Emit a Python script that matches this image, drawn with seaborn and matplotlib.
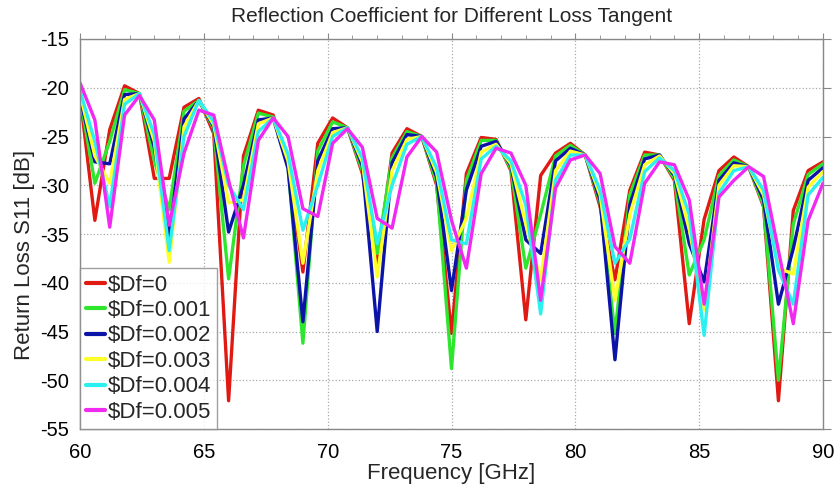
import numpy as np
import pandas as pd
import matplotlib
matplotlib.use("Agg")
import matplotlib.pyplot as plt
import seaborn as sns
from matplotlib.ticker import MultipleLocator

freq = [round(60 + 0.6 * k, 1) for k in range(51)]

df0 = [-20.8, -33.6, -24.3, -19.8, -20.6, -29.3, -29.3, -22.0, -21.1, -24.7,
       -52.1, -27.0, -22.3, -22.8, -27.8, -38.9, -25.7, -23.1, -24.1, -28.8,
       -38.0, -26.7, -24.2, -25.0, -30.0, -45.2, -28.8, -25.1, -25.3, -28.5,
       -43.8, -29.0, -26.7, -25.7, -26.9, -32.2, -39.7, -30.5, -26.6, -26.9,
       -29.5, -44.2, -33.5, -28.5, -27.1, -28.1, -32.2, -52.1, -32.6, -28.5, -27.6]
df1 = [-20.9, -29.8, -25.5, -20.2, -20.6, -27.5, -32.5, -22.4, -21.3, -24.2,
       -39.6, -28.0, -22.6, -23.0, -28.0, -46.2, -26.5, -23.5, -24.1, -28.5,
       -37.0, -27.2, -24.5, -25.0, -29.7, -48.8, -29.5, -25.4, -25.4, -28.3,
       -38.5, -33.0, -27.0, -25.9, -26.9, -31.8, -45.2, -31.0, -26.9, -26.9,
       -29.3, -39.2, -35.6, -29.0, -27.4, -28.1, -32.0, -50.0, -34.0, -28.9, -27.8]
df2 = [-21.0, -27.6, -27.8, -20.7, -20.6, -26.1, -35.3, -23.2, -21.3, -24.0,
       -34.8, -30.0, -23.3, -23.1, -28.3, -44.0, -27.5, -24.2, -24.1, -28.0,
       -45.0, -27.7, -24.8, -25.0, -29.2, -40.8, -30.5, -26.0, -25.5, -28.0,
       -35.6, -37.0, -27.5, -26.2, -26.9, -31.5, -47.9, -32.0, -27.3, -26.9,
       -29.0, -36.0, -39.9, -29.5, -27.7, -28.1, -31.5, -42.2, -36.5, -29.5, -28.2]
df3 = [-20.6, -27.0, -29.8, -21.2, -20.6, -25.5, -37.9, -24.0, -21.3, -23.8,
       -31.8, -31.5, -23.7, -23.1, -27.5, -38.0, -28.5, -24.6, -24.1, -27.6,
       -39.4, -28.5, -25.3, -25.0, -28.7, -36.7, -33.4, -26.6, -25.8, -27.8,
       -34.0, -39.7, -28.5, -26.5, -26.9, -31.0, -41.8, -33.0, -27.9, -27.0,
       -28.8, -34.5, -42.8, -30.0, -28.0, -28.1, -31.0, -38.5, -39.1, -30.2, -28.6]
df4 = [-20.3, -25.5, -32.2, -21.7, -20.6, -24.8, -36.7, -25.0, -21.3, -23.5,
       -30.0, -32.5, -24.5, -23.1, -26.8, -34.6, -30.0, -25.0, -24.1, -27.2,
       -36.0, -30.0, -25.8, -25.0, -28.2, -35.6, -36.0, -27.3, -26.0, -27.5,
       -32.0, -43.2, -29.5, -26.9, -26.9, -30.5, -38.0, -35.5, -28.6, -27.2,
       -28.5, -33.0, -45.4, -30.8, -28.5, -28.1, -30.5, -38.7, -42.2, -31.0, -29.2]
df5 = [-19.5, -23.3, -34.3, -22.8, -20.8, -23.3, -34.1, -26.7, -22.3, -22.8,
       -29.5, -35.4, -25.4, -23.1, -25.0, -32.4, -33.2, -25.7, -24.2, -26.1,
       -33.4, -34.4, -27.1, -25.0, -26.6, -33.6, -38.5, -28.8, -26.2, -26.7,
       -30.0, -41.8, -30.3, -27.4, -26.9, -28.8, -36.3, -38.0, -29.8, -27.6,
       -27.9, -31.5, -42.2, -31.2, -29.5, -28.1, -29.1, -36.7, -44.2, -33.6, -29.8]

labels = ["$Df=0", "$Df=0.001", "$Df=0.002", "$Df=0.003", "$Df=0.004", "$Df=0.005"]
colors = ["#e01a12", "#2ee62e", "#0c14a8", "#ffff2a", "#2af0f0", "#f02af0"]
x_ticks = [60, 65, 70, 75, 80, 85, 90]
y_ticks = [-55, -50, -45, -40, -35, -30, -25, -20, -15]

series = [df0, df1, df2, df3, df4, df5]
data = pd.DataFrame({
    "Frequency": np.tile(freq, len(series)),
    "S11": np.concatenate(series),
    "label": np.repeat(labels, len(freq)),
})

sns.set_style("white")
plt.rcParams["font.family"] = ["Liberation Sans", "DejaVu Sans"]
plt.rcParams["text.usetex"] = False
plt.rcParams["text.parse_math"] = False
plt.rcParams["axes.unicode_minus"] = False

fig = plt.figure(figsize=(8.38, 4.88), dpi=100)
ax = fig.add_axes([80 / 838, 1 - 429 / 488, 743 / 838, 390 / 488])

sns.lineplot(data=data, x="Frequency", y="S11", hue="label", hue_order=labels,
             palette=colors, linewidth=2.4, ax=ax, sort=False, estimator=None)

ax.set_xlim(60, 90)
ax.set_ylim(-55, -15)
ax.set_xticks(x_ticks)
ax.set_yticks(y_ticks)
ax.xaxis.set_minor_locator(MultipleLocator(1))
ax.tick_params(axis="both", which="both", direction="out", top=True, right=True,
               labelsize=14.5, color="#888888", labelcolor="black")
ax.tick_params(axis="y", which="major", length=6, pad=2)
ax.tick_params(axis="x", which="major", length=4.5, pad=5.5)
ax.tick_params(which="minor", length=3)
ax.grid(True, which="major", linestyle=":", color="#aaaaaa", linewidth=0.9)
for s in ax.spines.values():
    s.set_color("#888888")
    s.set_linewidth(1.0)

ax.set_xlabel("Frequency [GHz]", fontsize=16, labelpad=1)
ax.set_ylabel("Return Loss S11 [dB]", fontsize=16, labelpad=0)
ax.yaxis.set_label_coords(-45 / 743, 0.446)
ax.set_title("Reflection Coefficient for Different Loss Tangent", fontsize=15, pad=12)

leg = ax.legend(loc="lower left", fontsize=16, frameon=True, fancybox=False,
                handlelength=0.85, handletextpad=0.1,
                labelspacing=0.2, borderpad=0.28, borderaxespad=0)
leg.get_frame().set_edgecolor("#888888")
leg.get_frame().set_linewidth(1.0)
for h in leg.get_lines():
    h.set_linewidth(3)

fig.savefig("out.png", dpi=100)
